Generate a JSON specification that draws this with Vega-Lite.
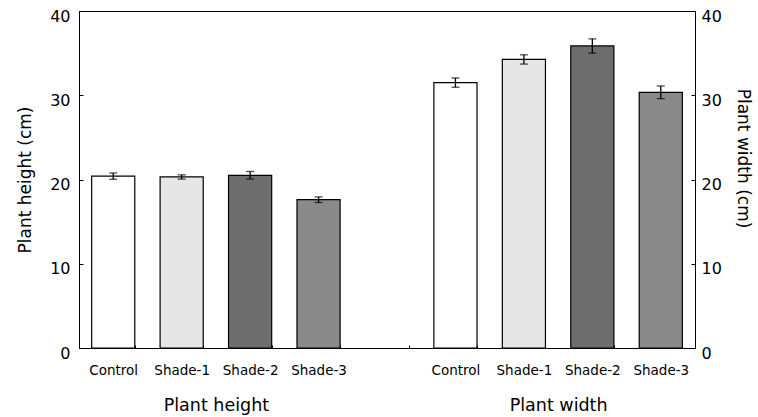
{
  "$schema": "https://vega.github.io/schema/vega-lite/v6.json",
  "width": 616,
  "height": 337,
  "autosize": {"type": "none"},
  "padding": {"left": 79, "top": 11, "right": 63, "bottom": 69},
  "background": "white",
  "config": {
    "font": "DejaVu Sans",
    "view": {"stroke": "black", "strokeWidth": 1},
    "axis": {"domainColor": "black", "tickColor": "black", "labelColor": "black", "titleColor": "black", "grid": false, "titleFontWeight": "normal"}
  },
  "data": {
    "values": [
      {"group": "Plant height", "treatment": "Control", "key": "Plant height|Control", "value": 20.4, "err": 0.37},
      {"group": "Plant height", "treatment": "Shade-1", "key": "Plant height|Shade-1", "value": 20.3, "err": 0.25},
      {"group": "Plant height", "treatment": "Shade-2", "key": "Plant height|Shade-2", "value": 20.5, "err": 0.45},
      {"group": "Plant height", "treatment": "Shade-3", "key": "Plant height|Shade-3", "value": 17.6, "err": 0.33},
      {"group": "Plant width", "treatment": "Control", "key": "Plant width|Control", "value": 31.5, "err": 0.55},
      {"group": "Plant width", "treatment": "Shade-1", "key": "Plant width|Shade-1", "value": 34.25, "err": 0.55},
      {"group": "Plant width", "treatment": "Shade-2", "key": "Plant width|Shade-2", "value": 35.85, "err": 0.85},
      {"group": "Plant width", "treatment": "Shade-3", "key": "Plant width|Shade-3", "value": 30.35, "err": 0.75}
    ]
  },
  "layer": [
    {
      "mark": {"type": "bar", "stroke": "black", "strokeWidth": 1.2},
      "encoding": {
        "x": {
          "field": "key", "type": "nominal", "sort": null,
          "scale": {"domain": ["Plant height|Control", "Plant height|Shade-1", "Plant height|Shade-2", "Plant height|Shade-3", "gap", "Plant width|Control", "Plant width|Shade-1", "Plant width|Shade-2", "Plant width|Shade-3"], "paddingInner": 0.37, "paddingOuter": 0.185},
          "axis": {"title": null, "labelExpr": "indexof(datum.label, '|') >= 0 ? split(datum.label, '|')[1] : ''", "labelAngle": 0, "labelFontSize": 13.5, "labelPadding": 18, "tickBand": "extent", "tickSize": -3}
        },
        "y": {
          "field": "value", "type": "quantitative",
          "scale": {"domain": [0, 40], "nice": false},
          "axis": {"title": "Plant height (cm)", "values": [0, 10, 20, 30, 40], "tickSize": -4, "labelFontSize": 16, "labelPadding": 13, "labelOffset": 5, "labelFlush": false, "titleFontSize": 17, "titlePadding": 15}
        },
        "fill": {
          "field": "treatment", "type": "nominal",
          "scale": {"domain": ["Control", "Shade-1", "Shade-2", "Shade-3"], "range": ["#ffffff", "#e6e6e6", "#6e6e6e", "#8a8a8a"]},
          "legend": null
        }
      }
    },
    {
      "mark": {"type": "errorbar", "ticks": {"size": 8}, "color": "black", "thickness": 1.3},
      "encoding": {
        "x": {
          "field": "key", "type": "nominal", "sort": null,
          "scale": {"domain": ["Plant height|Control", "Plant height|Shade-1", "Plant height|Shade-2", "Plant height|Shade-3", "gap", "Plant width|Control", "Plant width|Shade-1", "Plant width|Shade-2", "Plant width|Shade-3"], "paddingInner": 0.37, "paddingOuter": 0.185},
          "axis": null
        },
        "y": {
          "field": "value", "type": "quantitative",
          "scale": {"domain": [0, 40], "nice": false},
          "axis": {"orient": "right", "title": "Plant width (cm)", "values": [0, 10, 20, 30, 40], "tickSize": -4, "labelFontSize": 16, "labelPadding": 10, "labelOffset": 5, "labelFlush": false, "titleFontSize": 17, "titlePadding": 12, "titleY": 147}
        },
        "yError": {"field": "err"}
      }
    },
    {
      "mark": {"type": "point", "opacity": 0},
      "encoding": {
        "x": {
          "field": "group", "type": "nominal",
          "scale": {"type": "point", "padding": 0.4},
          "axis": {"orient": "bottom", "title": null, "domain": false, "ticks": false, "labelFontSize": 17.5, "labelPadding": 48, "labelAngle": 0}
        }
      }
    }
  ],
  "resolve": {"scale": {"x": "independent", "y": "independent"}}
}
